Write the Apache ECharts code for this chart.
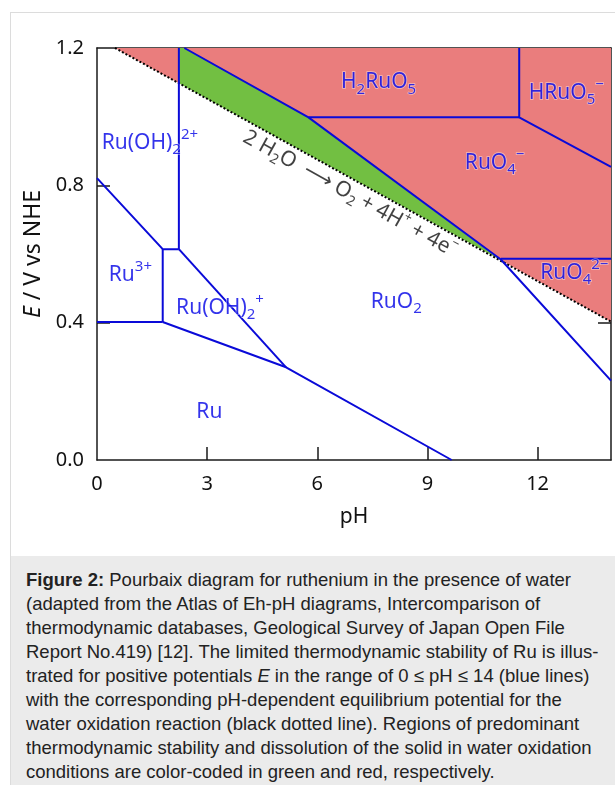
<!DOCTYPE html>
<html><head><meta charset="utf-8">
<script src="https://cdn.jsdelivr.net/npm/echarts@6/dist/echarts.min.js"></script>
<style>
html,body{margin:0;padding:0;background:#fff;width:615px;height:785px;overflow:hidden;}
#frame{position:absolute;left:10px;top:12px;width:640px;height:800px;border-left:1px solid #dcdcdc;border-top:1px solid #dcdcdc;}
#chart{position:absolute;left:0;top:0;width:615px;height:556px;}
#cap{position:absolute;left:11px;top:556px;width:604px;height:229px;background:#ebebeb;font-family:"Liberation Sans",Arial,sans-serif;font-size:18.5px;line-height:24px;color:#222;box-sizing:border-box;padding:12px 0 0 15px;white-space:nowrap;}
</style></head><body>
<div id="frame"></div>
<div id="chart"></div>
<div id="cap"><b>Figure 2:</b> Pourbaix diagram for ruthenium in the presence of water<br>(adapted from the Atlas of Eh-pH diagrams, Intercomparison of<br>thermodynamic databases, Geological Survey of Japan Open File<br>Report No.419) [12]. The limited thermodynamic stability of Ru is illus-<br>trated for positive potentials <i>E</i> in the range of 0 ≤ pH ≤ 14 (blue lines)<br>with the corresponding pH-dependent equilibrium potential for the<br>water oxidation reaction (black dotted line). Regions of predominant<br>thermodynamic stability and dissolution of the solid in water oxidation<br>conditions are color-coded in green and red, respectively.</div>
<script>
// ---- data (pH, E / V vs NHE) ----
const xTicks = [0, 3, 6, 9, 12];
const yTicks = [0, 0.4, 0.8, 1.2];
const waterLine = [[0.49, 1.2], [14, 0.403]];
const redLeft = [[0.49, 1.2], [2.23, 1.2], [2.23, 1.097]];
const greenRegion = [[2.23, 1.2], [2.38, 1.2], [5.76, 0.998], [11.0, 0.582], [2.23, 1.097]];
const redRight = [[2.38, 1.2], [14, 1.2], [14, 0.403], [11.0, 0.582], [5.76, 0.998]];
const line1 = [[0, 0.821], [1.79, 0.614], [2.23, 0.614]];
const line2 = [[2.23, 1.2], [2.23, 0.614]];
const line3 = [[0, 0.402], [1.79, 0.402]];
const line4 = [[1.79, 0.614], [1.79, 0.402]];
const line5 = [[1.79, 0.402], [5.15, 0.27], [9.66, 0]];
const line6 = [[2.23, 0.614], [5.15, 0.27]];
const line7 = [[2.38, 1.2], [5.76, 0.998], [11.0, 0.584], [14, 0.231]];
const line8 = [[5.76, 0.998], [11.5, 0.998]];
const line9 = [[11.5, 1.2], [11.5, 0.998], [14, 0.854]];
const line10 = [[11.0, 0.586], [14, 0.586]];
const boundaryLines = [line1, line2, line3, line4, line5, line6, line7, line8, line9, line10];
const speciesPH = [1.44, 0.91, 3.35, 3.06, 8.15, 13.0, 10.83, 12.78, 7.67];
const speciesE  = [0.924, 0.539, 0.443, 0.14, 0.46, 0.545, 0.865, 1.07, 1.10];
const speciesText = [
  '{m|Ru(OH)}{b|2}{p|2+}', '{m|Ru}{p|3+}', '{m|Ru(OH)}{b|2}{p|+}', '{m|Ru}', '{m|RuO}{b|2}',
  '{m|RuO}{b|4}{p|2−}', '{m|RuO}{b|4}{p|−}', '{m|HRuO}{b|5}{p|−}', '{m|H}{b|2}{m|RuO}{b|5}'
];
const waterLabelPos = [6.89, 0.775];
const waterLabelText = '{n|2 H}{s|2}{n|O  ⟶ O}{s|2}{n| + 4H}{u|+}{n| + 4e}{u|−}';

const FONT = '"Noto Sans", "Open Sans", sans-serif';
const BLUE = '#0a0ad8';
const TBLUE = '#0000e6';
const chart = echarts.init(document.getElementById('chart'));

function polySeries(points, color) {
  return {
    type: 'custom', coordinateSystem: 'cartesian2d', silent: true, z: 1, clip: true,
    data: points,
    renderItem: function (params, api) {
      if (params.dataIndex !== 0) return null;
      return { type: 'polygon', shape: { points: points.map(p => api.coord(p)) }, style: { fill: color } };
    }
  };
}
const axisCommon = {
  axisLine: { show: true, onZero: false, lineStyle: { color: '#1a1a1a', width: 1.5 } },
  axisTick: { show: true, inside: true, length: 13, lineStyle: { color: '#1a1a1a', width: 1.5 } },
  splitLine: { show: false }
};
const series = [
  polySeries(redLeft, '#ea7d7d'),
  polySeries(redRight, '#ea7d7d'),
  polySeries(greenRegion, '#72bf42'),
  { type: 'line', data: waterLine, symbol: 'none', silent: true, z: 2,
    lineStyle: { color: '#000', width: 2, type: [2, 2] } }
];
boundaryLines.forEach(l => series.push({
  type: 'line', data: l, symbol: 'none', silent: true, z: 3,
  lineStyle: { color: BLUE, width: 2 }
}));
series.push({
  type: 'scatter', symbolSize: 1, itemStyle: { color: 'rgba(0,0,0,0)' }, silent: true, z: 5,
  data: speciesPH.map((p, i) => ({ value: [p, speciesE[i]], label: { formatter: speciesText[i] } })),
  label: {
    show: true, position: 'inside', align: 'center', verticalAlign: 'middle',
    textBorderColor: 'rgba(255,255,255,0.6)', textBorderWidth: 1.5,
    rich: {
      m: { fontSize: 21, color: TBLUE, fontFamily: FONT },
      b: { fontSize: 15, color: TBLUE, fontFamily: FONT, padding: [14, 0, 0, 0] },
      p: { fontSize: 15, color: TBLUE, fontFamily: FONT, padding: [0, 0, 16, 0] }
    }
  }
});
series.push({
  type: 'scatter', symbolSize: 1, itemStyle: { color: 'rgba(0,0,0,0)' }, silent: true, z: 5,
  data: [{ value: waterLabelPos }],
  label: {
    show: true, position: 'inside', rotate: -28.9, formatter: waterLabelText,
    align: 'center', verticalAlign: 'middle',
    rich: {
      n: { fontSize: 21, color: '#111', fontFamily: FONT },
      s: { fontSize: 14, color: '#111', fontFamily: FONT, padding: [13, 0, 0, 0] },
      u: { fontSize: 13, color: '#111', fontFamily: FONT, padding: [0, 0, 15, 0] }
    }
  }
});

chart.setOption({
  animation: false,
  grid: { left: 97, top: 48, width: 514, height: 412, containLabel: false, outerBoundsMode: 'none' },
  xAxis: [
    Object.assign({}, axisCommon, {
      type: 'value', min: 0, max: 14, interval: 3, position: 'bottom',
      name: 'pH', nameLocation: 'middle', nameGap: 47,
      nameTextStyle: { fontSize: 21, color: '#111', fontFamily: FONT },
      axisTick: Object.assign({}, axisCommon.axisTick, { customValues: xTicks.slice(1) }),
      axisLabel: { customValues: xTicks, fontSize: 20, color: '#111', fontFamily: FONT, margin: 14,
        formatter: v => String(v) }
    }),
    Object.assign({}, axisCommon, {
      type: 'value', min: 0, max: 14, interval: 3, position: 'top',
      axisTick: Object.assign({}, axisCommon.axisTick, { customValues: xTicks.slice(1) }),
      axisLabel: { show: false }
    })
  ],
  yAxis: [
    Object.assign({}, axisCommon, {
      type: 'value', min: 0, max: 1.2, interval: 0.4, position: 'left',
      name: '{i|E} / V vs NHE', nameLocation: 'middle', nameGap: 46, nameRotate: 90,
      nameTextStyle: { fontSize: 23, color: '#111', fontFamily: FONT,
        rich: { i: { fontSize: 23, fontStyle: 'italic', color: '#111', fontFamily: FONT } } },
      axisTick: Object.assign({}, axisCommon.axisTick, { customValues: [0.4, 0.8] }),
      axisLabel: { customValues: yTicks, fontSize: 20, color: '#111', fontFamily: FONT, margin: 13,
        formatter: v => v.toFixed(1) }
    }),
    Object.assign({}, axisCommon, {
      type: 'value', min: 0, max: 1.2, interval: 0.4, position: 'right',
      axisTick: Object.assign({}, axisCommon.axisTick, { customValues: [0.4, 0.8] }),
      axisLabel: { show: false }
    })
  ],
  series: series
});
</script>
</body></html>
